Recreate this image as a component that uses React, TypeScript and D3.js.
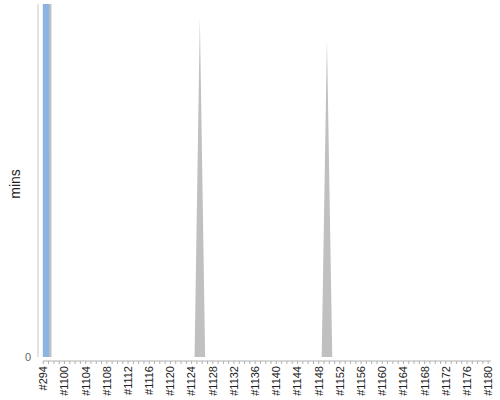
import * as d3 from "d3";

const width = 500;
const height = 400;
const margin = { top: 4, right: 7, bottom: 43, left: 42.8 };

// builds on the x axis: #294 then #1097 .. #1180
const builds = ["#294", ...d3.range(1097, 1181).map((n) => `#${n}`)];
const tickEvery = 4;

// grey area series (build time, mins) – only non-zero builds listed
const areaBuilds = ["#294", "#1125", "#1149"];
const areaMins = [5000, 96, 90];

// blue highlighted column
const barBuilds = ["#294"];
const barMins = [100];

const yMax = 100;

const App = () => {
  const x = d3
    .scaleBand<string>()
    .domain(builds)
    .range([margin.left, width - margin.right])
    .padding(0);
  const y = d3
    .scaleLinear()
    .domain([0, yMax])
    .range([height - margin.bottom, margin.top]);

  const areaValues = builds.map((b) => {
    const i = areaBuilds.indexOf(b);
    return i < 0 ? 0 : areaMins[i];
  });

  const area = d3
    .area<number>()
    .x((_, i) => (x(builds[i]) ?? 0) + x.bandwidth() * 0.65)
    .y0(y(0))
    .y1((d) => y(d));

  const axisY = height - margin.bottom + 4;
  const plotLeft = 38;

  return (
    <svg
      width={width}
      height={height}
      style={{ position: "absolute", left: 0, top: 0 }}
      fontFamily="Liberation Sans, Arial, sans-serif"
    >
      <defs>
        <clipPath id="plot">
          <rect
            x={plotLeft}
            y={margin.top}
            width={width - margin.right - plotLeft}
            height={height - margin.bottom - margin.top}
          />
        </clipPath>
      </defs>
      <g clipPath="url(#plot)">
        <path d={area(areaValues) ?? ""} fill="#c0c0c0" />
        {barBuilds.map((b, i) => (
          <rect
            key={b}
            x={x(b)}
            y={y(barMins[i])}
            width={x.bandwidth() * 1.2}
            height={y(0) - y(barMins[i])}
            fill="#8db3e2"
          />
        ))}
      </g>

      {/* y axis */}
      <line
        x1={plotLeft}
        x2={plotLeft}
        y1={margin.top}
        y2={y(0)}
        stroke="#c8c8c8"
      />
      <text
        x={31}
        y={y(0)}
        dy="0.35em"
        textAnchor="end"
        fontSize={11}
        fill="#666"
      >
        0
      </text>
      <text
        transform={`translate(20,184) rotate(-90)`}
        textAnchor="middle"
        fontSize={14}
        fill="#222"
      >
        mins
      </text>

      {/* x axis */}
      <line
        x1={margin.left}
        x2={width - margin.right - 2}
        y1={axisY}
        y2={axisY}
        stroke="#b0b0b0"
      />
      {builds.map((b, i) => {
        const tx = (x(b) ?? 0) + 0.5;
        return (
          <g key={b}>
            <line x1={tx} x2={tx} y1={axisY} y2={axisY + 3} stroke="#b0b0b0" />
            {i % tickEvery === 0 && (
              <text
                transform={`translate(${tx},${axisY + 5}) rotate(-90)`}
                dy="0.35em"
                textAnchor="end"
                fontSize={11}
                fill="#222"
              >
                {b}
              </text>
            )}
          </g>
        );
      })}
    </svg>
  );
};

export default App;
